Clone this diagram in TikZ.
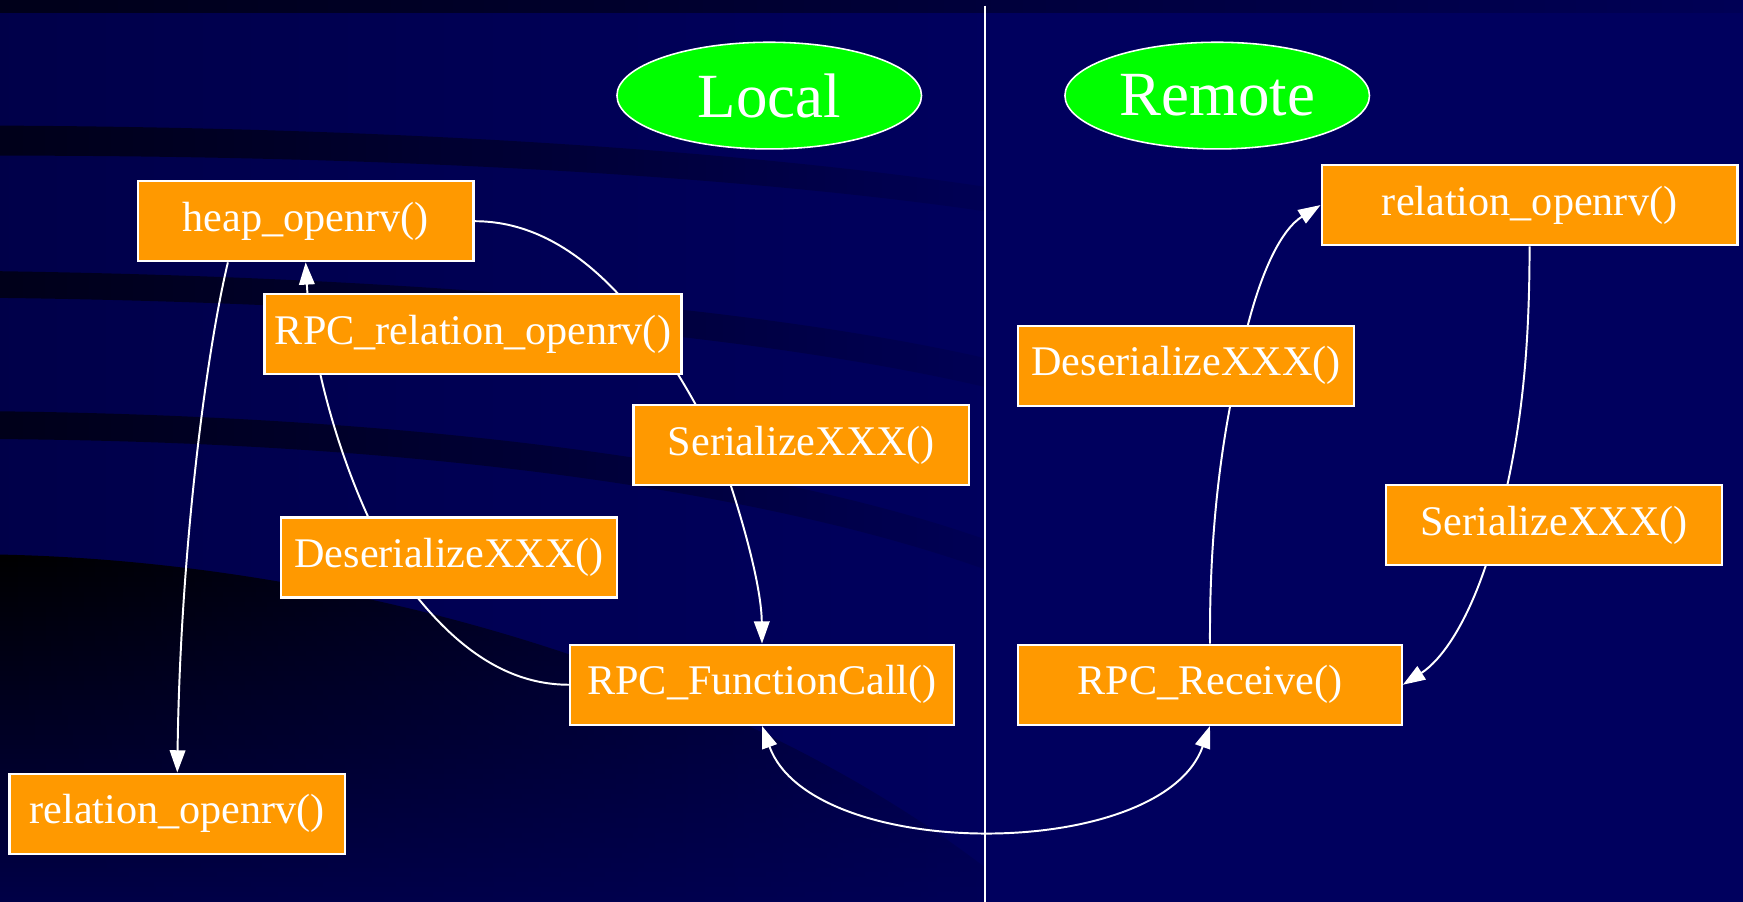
\documentclass[tikz,border=0pt]{standalone}
\usepackage{fontspec}
\setmainfont{Liberation Serif}
\usetikzlibrary{arrows.meta,shapes.geometric,fadings}
\definecolor{bgnavy}{RGB}{0,0,94}
\definecolor{bgdark}{RGB}{0,0,26}
\definecolor{boxorange}{RGB}{255,153,0}
\definecolor{sidegreen}{RGB}{0,255,0}
\tikzfading[name=stripefade, left color=transparent!0, right color=transparent!88]
\tikzfading[name=cornerfade, left color=transparent!0, right color=transparent!70]
\pgfdeclarelayer{background}
\pgfdeclarelayer{edges}
\pgfsetlayers{background,edges,main}
\tikzset{
    fnbox/.style={rectangle, fill=boxorange, draw=white, line width=0.6pt,
        text=white, font=\fontsize{10.8}{13}\selectfont,
        minimum width=30.2mm, minimum height=7.2mm, inner sep=0pt},
    side/.style={ellipse, fill=sidegreen, draw=white, line width=0.4pt,
        text=white, font=\fontsize{16.1}{19}\selectfont,
        minimum width=27.4mm, minimum height=9.6mm, inner sep=0pt},
    edge/.style={white, line width=0.5pt},
    stripe/.style={fill=bgdark, path fading=stripefade},
    >={Triangle[length=2mm,width=1.4mm]}
}
\begin{document}
\begin{tikzpicture}[x=0.1mm,y=-0.1mm]
\useasboundingbox (0,0) rectangle (1568,811);
% sides
\node[side] (local) at (692,86) {Local};
\node[side] (remote) at (1095,86) {Remote};
% local calls
\node[fnbox] (heap) at (275,199) {heap\_openrv()};
\node[fnbox, minimum width=37.5mm] (rpcrel) at (425.5,300.5) {RPC\_relation\_openrv()};
\node[fnbox] (serL) at (721,400.5) {SerializeXXX()};
\node[fnbox] (deserL) at (404,501.5) {DeserializeXXX()};
\node[fnbox, minimum width=34.5mm] (fcall) at (685.5,616) {RPC\_FunctionCall()};
\node[fnbox] (relL) at (159.5,732) {relation\_openrv()};
% remote calls
\node[fnbox, minimum width=37.4mm] (relR) at (1376,184.5) {relation\_openrv()};
\node[fnbox] (deserR) at (1067,329) {DeserializeXXX()};
\node[fnbox] (serR) at (1398,472.5) {SerializeXXX()};
\node[fnbox, minimum width=34.5mm] (recv) at (1088.5,616) {RPC\_Receive()};

\begin{pgfonlayer}{background}
% backdrop
\fill[bgnavy] (0,0) rectangle (1568,811);
\shade[left color=bgnavy!78!black, right color=bgnavy] (0,0) rectangle (900,811);
\fill[stripe] (0,0) rectangle (1568,12);
\fill[stripe] (0,113) .. controls (400,115) and (700,140) .. (886,168)
    -- (886,190) .. controls (700,163) and (400,140) .. (0,140) -- cycle;
\fill[stripe] (0,244) .. controls (400,250) and (700,280) .. (886,322)
    -- (886,348) .. controls (700,305) and (400,273) .. (0,268) -- cycle;
\fill[stripe] (0,370) .. controls (400,375) and (700,420) .. (886,485)
    -- (886,512) .. controls (700,446) and (400,398) .. (0,395) -- cycle;
\shade[top color=black, bottom color=bgnavy!75!black, path fading=cornerfade]
    (0,499) .. controls (300,505) and (650,600) .. (886,780) -- (886,811) -- (0,811) -- cycle;
\draw[white, line width=0.5pt] (886,5) -- (886,811);
\end{pgfonlayer}

\begin{pgfonlayer}{edges}
\draw[edge, ->] ([xshift=-7mm]heap.south) .. controls (185,320) and (162,500) .. (relL.north);
\draw[edge, ->] (heap.east) .. controls (520,199) and (590,290) .. ([xshift=-7.6mm]serL.center)
    .. controls (670,470) and (685,530) .. (fcall.north);
\draw[edge, ->] (fcall.west) .. controls (450,616) and (400,575) .. (355,510)
    .. controls (312,440) and (280,330) .. (heap.south);
\draw[edge, <->] (fcall.south) .. controls (730,776) and (1045,776) .. (recv.south);
\draw[edge, ->] (recv.north) .. controls (1088,480) and (1098,400) .. (1114,330)
    .. controls (1132,240) and (1155,205) .. (relR.west);
\draw[edge, ->] (relR.south) .. controls (1376,330) and (1366,400) .. (1348,470)
    .. controls (1325,560) and (1295,595) .. (recv.east);
\end{pgfonlayer}
\end{tikzpicture}
\end{document}
